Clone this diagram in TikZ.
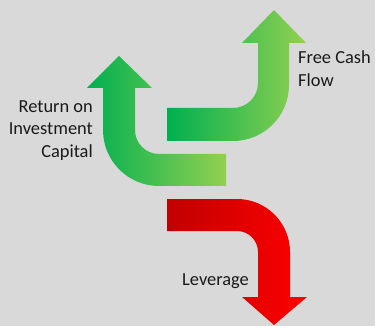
\documentclass[tikz,border=0pt]{standalone}
\usepackage{fontspec}
\setmainfont{Carlito}
\usepackage{xcolor}
\usepackage{tikz}

\definecolor{bggray}{RGB}{217,217,217}
\definecolor{darkgreen}{RGB}{0,176,80}
\definecolor{lightgreen}{RGB}{146,208,80}
\definecolor{darkred}{RGB}{192,0,0}
\definecolor{brightred}{RGB}{255,0,0}

\begin{document}
\begin{tikzpicture}[x=1pt, y=-1pt,
            upgreen/.style={left color=darkgreen, right color=lightgreen, draw=none},
            downred/.style={left color=darkred, right color=brightred, draw=none},
            lbl/.style={inner sep=0pt, text=black!90, font=\fontsize{18.4}{23}\selectfont}]
        \fill[bggray] (0,0) rectangle (375,326);
        \useasboundingbox (0,0) rectangle (375,326);

        % free cash flow, bends up to the right
        \shade[upgreen] (167,141) -- (233,141) arc[start angle=90, end angle=0, radius=56]
            -- (289,43) -- (306,43) -- (274,10) -- (242,43) -- (258,43) -- (258,83)
            arc[start angle=0, end angle=90, radius=25] -- (167,108) -- cycle;

        % return on investment capital, bends up to the left
        \shade[upgreen] (226,186) -- (159,186) arc[start angle=90, end angle=180, radius=56]
            -- (103,88) -- (87,88) -- (119,56) -- (152,88) -- (135,88) -- (135,130)
            arc[start angle=180, end angle=90, radius=24] -- (226,154) -- cycle;

        % leverage, bends down
        \shade[downred] (167,199) -- (237,199) arc[start angle=-90, end angle=0, radius=53]
            -- (290,297) -- (307,297) -- (274,325) -- (242,297) -- (258,297) -- (258,252)
            arc[start angle=0, end angle=-90, radius=21] -- (167,231) -- cycle;

        % base of a multi-line node sits on its last line
        \node[lbl, anchor=base west, align=left] (fcf) at (298,87) {Free Cash\\Flow};
        \node[lbl, anchor=base east, align=right] (roic) at (93,158) {Return on\\Investment\\Capital};
        \node[lbl, anchor=base west] (lev) at (182,285) {Leverage};
    \end{tikzpicture}
\end{document}
